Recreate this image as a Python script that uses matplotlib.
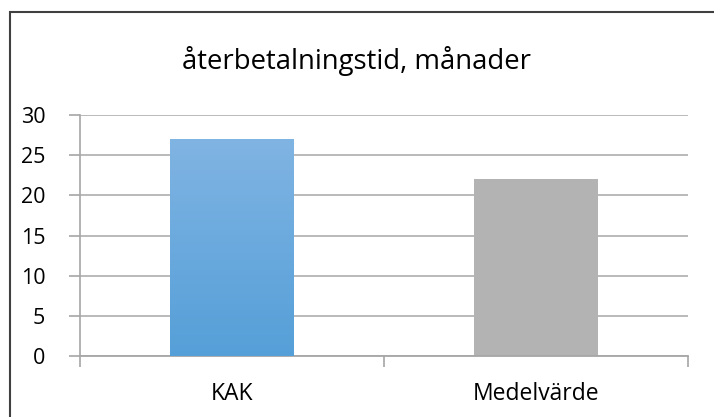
import numpy as np
import matplotlib
matplotlib.use("Agg")
import matplotlib.pyplot as plt
from matplotlib.patches import Rectangle
from matplotlib.colors import LinearSegmentedColormap

categories = ["KAK", "Medelvärde"]
values = [27, 22]
title = "återbetalningstid, månader"
yticks = [0, 5, 10, 15, 20, 25, 30]

plt.rcParams["font.family"] = ["Open Sans", "DejaVu Sans"]

fig = plt.figure(figsize=(7.14, 4.17), dpi=100)
ax = fig.add_axes([0.112, 0.1463, 0.8516, 0.5779])

x = np.arange(len(categories))
bars = ax.bar(x, values, width=0.405, color=["#6aa9df", "#b3b3b3"], zorder=2)

# vertical gradient on the first bar (lighter at top)
grad = LinearSegmentedColormap.from_list("kak", ["#559fd8", "#80b4e3"])
b = bars[0]
img = ax.imshow(
    np.linspace(0, 1, 256).reshape(-1, 1),
    cmap=grad,
    origin="lower",
    aspect="auto",
    extent=(b.get_x(), b.get_x() + b.get_width(), 0, b.get_height()),
    zorder=3,
)
img.set_clip_path(b)

ax.set_xlim(-0.5, len(categories) - 0.5)
ax.set_ylim(0, 30)
ax.set_yticks(yticks)
ax.yaxis.grid(True, color="#b4b4b4", linewidth=1.3)
ax.set_axisbelow(True)

ax.set_xticks(x)
ax.set_xticklabels(categories)
ax.set_xticks(np.arange(len(categories) + 1) - 0.5, minor=True)
ax.tick_params(axis="x", which="major", length=0, pad=19, labelsize=16.5)
ax.tick_params(axis="x", which="minor", length=8, width=1.2, color="#a6a6a6", direction="out")
ax.tick_params(axis="y", length=8, width=1.2, color="#a6a6a6", pad=17, labelsize=15.5)

for s in ["top", "right"]:
    ax.spines[s].set_visible(False)
ax.spines["left"].set_color("#a6a6a6")
ax.spines["left"].set_linewidth(1.2)
ax.spines["bottom"].set_color("#a6a6a6")
ax.spines["bottom"].set_linewidth(1.3)

fig.text(0.5, 0.853, title, ha="center", va="center", fontsize=19.8)

# chart frame
fig.patches.append(Rectangle((10 / 714, -0.1), 1.2, 1 - 12 / 417 + 0.1,
                             transform=fig.transFigure, fill=False,
                             edgecolor="#404040", linewidth=1.5))

fig.savefig("out.png", dpi=100)
